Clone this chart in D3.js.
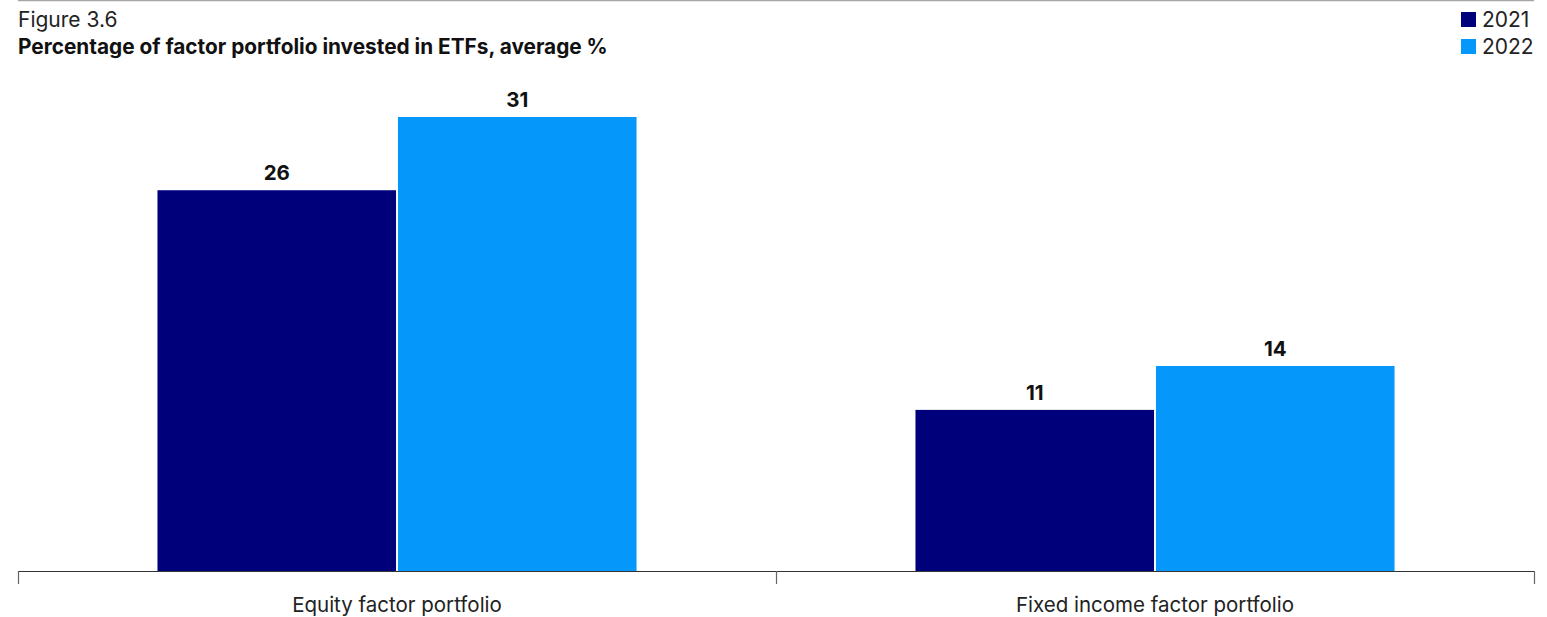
<!DOCTYPE html>
<html>
<head>
<meta charset="utf-8">
<script src="https://cdn.jsdelivr.net/npm/d3@7"></script>
<style>
  html, body { margin: 0; padding: 0; background: #fff; }
  svg { display: block; font-family: Inter, "Noto Sans", sans-serif; }
</style>
</head>
<body>
<svg id="chart" width="1547" height="617"></svg>
<script>
const categories = ["Equity factor portfolio", "Fixed income factor portfolio"];
const seriesNames = ["2021", "2022"];
const values2021 = [26, 11];
const values2022 = [31, 14];
const colors = ["#00007a", "#0597fa"];

const W = 1547, H = 617;
const margin = { left: 18, right: 13, top: 117, bottom: 46 };
const svg = d3.select("#chart");

const rows = categories.map((c, i) => ({ cat: c, vals: [values2021[i], values2022[i]] }));

const x = d3.scaleBand().domain(categories).range([margin.left, W - margin.right]).paddingInner(0).paddingOuter(0);
const groupPad = 0.184;
const y = d3.scaleLinear().domain([0, 31]).range([571, 117]);

// top rule
svg.append("line").attr("x1", 18).attr("x2", W - 13).attr("y1", 0.5).attr("y2", 0.5)
  .attr("stroke", "#a6a6a6").attr("stroke-width", 1.5);

// titles
svg.append("text").attr("x", 18).attr("y", 27).attr("font-size", 21).attr("fill", "#222").text("Figure 3.6");
svg.append("text").attr("x", 18).attr("y", 54).attr("font-size", 20.8).attr("font-weight", 700).attr("fill", "#111")
  .text("Percentage of factor portfolio invested in ETFs, average %");

// legend
seriesNames.forEach((s, i) => {
  const g = svg.append("g").attr("transform", `translate(1461, ${12 + i * 27})`);
  g.append("rect").attr("width", 15).attr("height", 15).attr("fill", colors[i]);
  g.append("text").attr("x", 21).attr("y", 15).attr("font-size", 21).attr("fill", "#222").text(s);
});

// bars
const groupW = x.bandwidth() * (1 - 2 * groupPad);
const barScale = d3.scaleBand().domain(seriesNames).range([0, groupW]).paddingInner(0.008);
rows.forEach(r => {
  const gx = x(r.cat) + x.bandwidth() * groupPad;
  r.vals.forEach((v, j) => {
    const bx = gx + barScale(seriesNames[j]);
    svg.append("rect").attr("x", bx).attr("y", y(v)).attr("width", barScale.bandwidth())
      .attr("height", y(0) - y(v)).attr("fill", colors[j]);
    svg.append("text").attr("x", bx + barScale.bandwidth() / 2).attr("y", y(v) - 10)
      .attr("text-anchor", "middle").attr("font-size", 20.5).attr("font-weight", 700).attr("fill", "#111")
      .text(v);
  });
});

// x axis
const ax = svg.append("g").attr("transform", `translate(0, ${y(0)})`);
ax.append("line").attr("x1", margin.left).attr("x2", W - margin.right).attr("y1", 0.5).attr("y2", 0.5)
  .attr("stroke", "#333").attr("stroke-width", 1.2);
const tickXs = [margin.left, ...categories.map(c => x(c) + x.bandwidth())];
tickXs.forEach(tx => {
  ax.append("line").attr("x1", tx + 0.5).attr("x2", tx + 0.5).attr("y1", 0).attr("y2", 13)
    .attr("stroke", "#666").attr("stroke-width", 1.2);
});
categories.forEach(c => {
  ax.append("text").attr("x", x(c) + x.bandwidth() / 2).attr("y", 41)
    .attr("text-anchor", "middle").attr("font-size", 20.5).attr("fill", "#222").text(c);
});
</script>
</body>
</html>
